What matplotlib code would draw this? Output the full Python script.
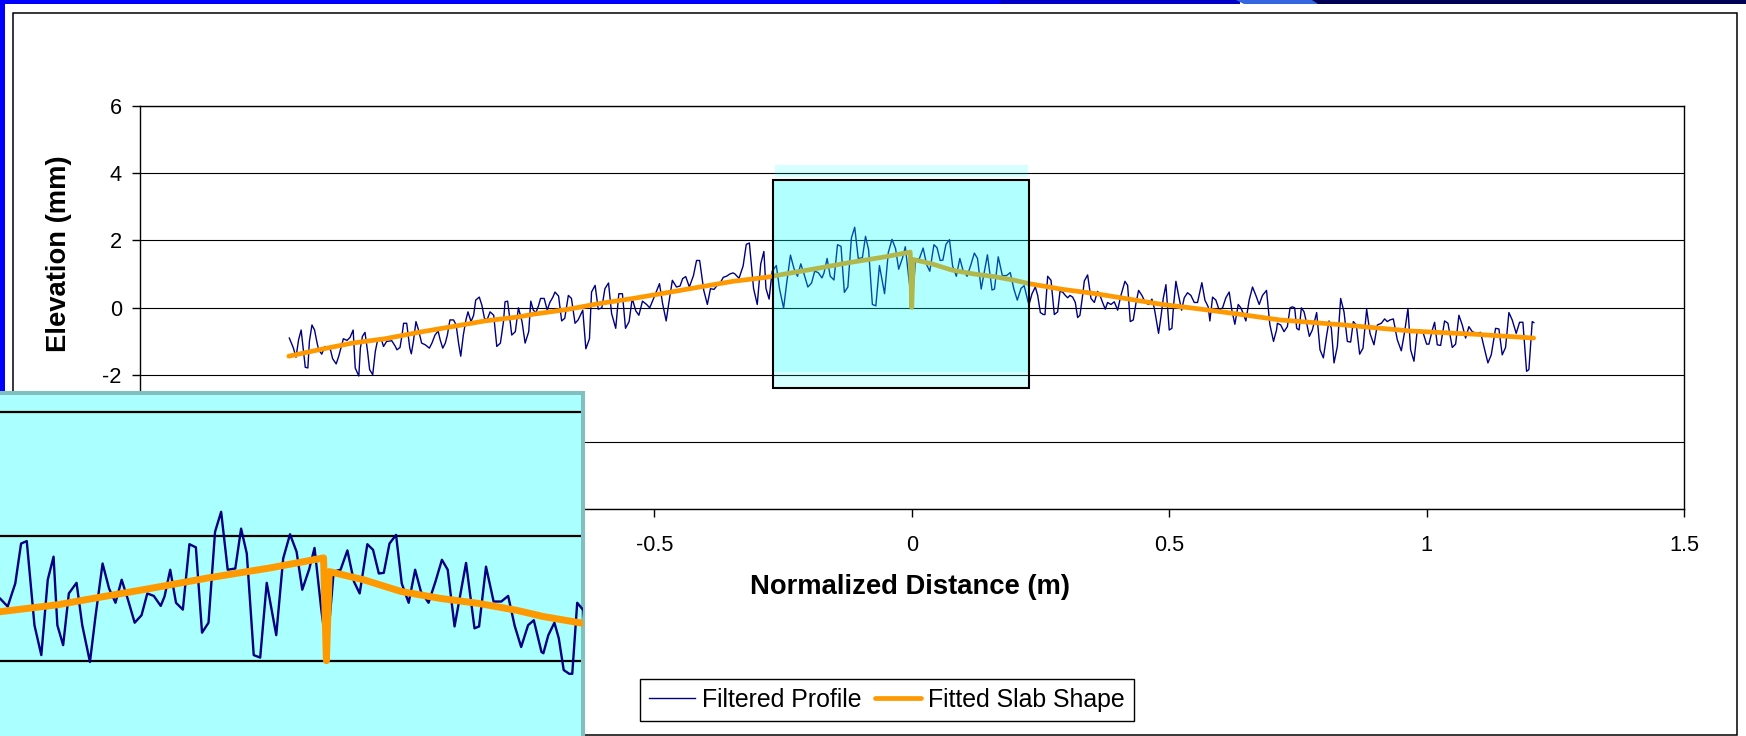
"""Slab profile slide: filtered elevation profile + fitted slab shape,
with the joint region highlighted and a zoomed inset in the lower left corner."""

import matplotlib
matplotlib.use('Agg')
import matplotlib.pyplot as plt
from matplotlib.patches import Rectangle, Polygon
from matplotlib.ticker import FuncFormatter

plt.rcParams['font.family'] = ['Liberation Sans', 'DejaVu Sans']
plt.rcParams['axes.unicode_minus'] = False

W, H = 1746, 736  # output size in px (dpi 100)

# ---- Axis setup ----
X_TICKS = [-1.5, -1.0, -0.5, 0.0, 0.5, 1.0, 1.5]
Y_TICKS = [-6, -4, -2, 0, 2, 4, 6]
INSET_GRID = [0, 2, 4]

# ---- Filtered profile (distance m, elevation mm) ----
profile_west = [
    (-1.209, -0.91), (-1.201, -1.21), (-1.196, -1.48), (-1.191, -0.96), (-1.186, -0.67),
    (-1.181, -1.36), (-1.178, -1.78), (-1.173, -1.80), (-1.170, -1.01), (-1.165, -0.52),
    (-1.160, -0.67), (-1.155, -1.06), (-1.152, -1.26), (-1.146, -1.39), (-1.140, -1.16),
    (-1.136, -1.21), (-1.129, -1.26), (-1.125, -1.52), (-1.118, -1.68), (-1.113, -1.45),
    (-1.108, -1.16), (-1.104, -0.93), (-1.097, -0.98), (-1.091, -0.89), (-1.085, -0.67),
    (-1.081, -1.80), (-1.074, -2.04), (-1.071, -1.21), (-1.067, -0.86), (-1.062, -0.74),
    (-1.057, -1.31), (-1.053, -1.85), (-1.047, -2.00), (-1.042, -1.31), (-1.037, -0.93),
    (-1.031, -0.91), (-1.026, -1.16), (-1.020, -1.01), (-1.010, -0.99), (-1.003, -1.16),
    (-1.000, -1.26), (-0.994, -1.19), (-0.990, -0.82), (-0.987, -0.47), (-0.981, -0.47),
    (-0.975, -1.21), (-0.972, -1.38), (-0.968, -1.01), (-0.963, -0.42), (-0.958, -0.67),
    (-0.952, -1.06), (-0.945, -1.11), (-0.937, -1.21), (-0.932, -1.06), (-0.926, -0.82),
    (-0.920, -0.70), (-0.916, -0.96), (-0.911, -1.21), (-0.906, -1.06), (-0.902, -0.82),
    (-0.897, -0.37), (-0.890, -0.37), (-0.885, -0.52), (-0.880, -1.09), (-0.876, -1.45),
    (-0.871, -0.82), (-0.866, -0.37), (-0.862, -0.13), (-0.856, -0.42), (-0.851, -0.23),
    (-0.847, 0.22), (-0.840, 0.31), (-0.835, 0.07), (-0.830, -0.32), (-0.825, -0.37),
    (-0.819, -0.13), (-0.812, -0.23), (-0.806, -1.16), (-0.799, -1.06), (-0.793, -0.42),
    (-0.790, 0.17), (-0.785, 0.19), (-0.780, -0.42), (-0.777, -0.82), (-0.770, -0.72),
    (-0.764, -0.01), (-0.757, -0.42), (-0.751, -1.06), (-0.744, -0.72), (-0.740, 0.19),
]
profile_mid_west = [
    (-0.735, -0.08), (-0.730, -0.15), (-0.725, 0.05), (-0.721, 0.27), (-0.714, 0.27),
    (-0.708, -0.08), (-0.703, 0.15), (-0.697, 0.31), (-0.693, 0.46), (-0.686, 0.34),
    (-0.680, -0.40), (-0.674, -0.32), (-0.667, 0.36), (-0.661, 0.27), (-0.654, -0.47),
    (-0.648, -0.37), (-0.639, -0.08), (-0.633, -1.23), (-0.626, -0.93), (-0.622, 0.46),
    (-0.615, 0.66), (-0.609, -0.05), (-0.602, -0.01), (-0.596, 0.56), (-0.589, 0.73),
    (-0.583, -0.18), (-0.575, -0.62), (-0.569, 0.41), (-0.562, 0.41), (-0.556, -0.62),
    (-0.549, -0.42), (-0.543, 0.27), (-0.536, -0.10), (-0.530, -0.23), (-0.523, 0.19),
    (-0.515, 0.09), (-0.509, -0.01), (-0.499, 0.36), (-0.490, 0.71), (-0.484, 0.12),
    (-0.477, -0.40), (-0.472, 0.12), (-0.465, 0.81), (-0.457, 0.61), (-0.450, 0.64),
    (-0.445, 0.86), (-0.439, 0.92), (-0.432, 0.61), (-0.424, 0.95), (-0.418, 1.40),
    (-0.412, 1.40), (-0.404, 0.51), (-0.397, 0.09), (-0.391, 0.56), (-0.384, 0.54),
    (-0.378, 0.66), (-0.371, 0.76), (-0.366, 0.90), (-0.360, 0.93), (-0.353, 1.00),
    (-0.347, 1.03),
]
profile_joint = [
    (-0.3436, 1.00), (-0.3355, 0.87), (-0.3275, 1.24), (-0.3214, 1.88), (-0.3154, 1.92),
    (-0.3073, 0.57), (-0.3001, 0.09), (-0.2933, 1.30), (-0.2872, 1.67), (-0.2832, 0.57),
    (-0.2771, 0.25), (-0.2711, 1.08), (-0.2630, 1.25), (-0.2570, 0.57), (-0.2489, -0.02),
    (-0.2429, 0.73), (-0.2356, 1.56), (-0.2288, 1.16), (-0.2220, 0.93), (-0.2155, 1.30),
    (-0.2087, 0.97), (-0.2018, 0.61), (-0.1946, 0.73), (-0.1885, 1.08), (-0.1817, 1.04),
    (-0.1744, 0.88), (-0.1704, 1.03), (-0.1644, 1.46), (-0.1583, 0.93), (-0.1511, 0.82),
    (-0.1442, 1.87), (-0.1374, 1.82), (-0.1309, 0.45), (-0.1241, 0.61), (-0.1172, 2.07),
    (-0.1108, 2.39), (-0.1039, 1.46), (-0.0959, 1.48), (-0.0898, 2.12), (-0.0838, 1.72),
    (-0.0765, 0.09), (-0.0697, 0.05), (-0.0628, 1.25), (-0.0528, 0.41), (-0.0455, 1.64),
    (-0.0383, 2.03), (-0.0314, 1.75), (-0.0254, 1.14), (-0.0181, 1.47), (-0.0125, 1.81),
    (-0.0053, 0.81), (0.0005, 0.15), (0.0077, 1.43), (0.0149, 1.46), (0.0221, 1.77),
    (0.0290, 1.27), (0.0350, 1.08), (0.0431, 1.87), (0.0491, 1.78), (0.0552, 1.40),
    (0.0604, 1.41), (0.0664, 1.88), (0.0733, 2.02), (0.0793, 1.24), (0.0866, 0.93),
    (0.0934, 1.46), (0.0995, 1.11), (0.1075, 0.93), (0.1148, 1.27), (0.1216, 1.62),
    (0.1277, 1.46), (0.1349, 0.55), (0.1470, 1.57), (0.1559, 0.52), (0.1607, 0.55),
    (0.1680, 1.51), (0.1760, 0.95), (0.1841, 0.95), (0.1913, 1.04), (0.1982, 0.56),
    (0.2050, 0.22), (0.2123, 0.57), (0.2183, 0.65), (0.2264, 0.14),
]
profile_mid_east = [
    (0.2284, 0.12), (0.2336, 0.41), (0.2400, 0.61), (0.2446, 0.36), (0.2498, -0.15),
    (0.2556, -0.21), (0.2588, -0.21), (0.2640, 0.93), (0.2705, 0.81), (0.2769, -0.21),
    (0.2834, -0.13), (0.2879, 0.48), (0.2931, 0.46), (0.2983, 0.36), (0.3028, 0.29),
    (0.3073, 0.36), (0.3125, 0.31), (0.3177, 0.15), (0.3222, -0.30), (0.3267, -0.23),
    (0.3319, 0.36), (0.3352, 0.79), (0.3416, 0.97), (0.3481, 0.27), (0.3546, 0.15),
    (0.3610, 0.48), (0.3656, 0.36), (0.3707, 0.15), (0.3759, -0.05), (0.3804, 0.15),
    (0.3869, 0.09), (0.3934, 0.17), (0.3999, -0.08), (0.4063, 0.36), (0.4141, 0.78),
    (0.4193, 0.66), (0.4244, -0.42), (0.4303, -0.37), (0.4354, 0.12), (0.4406, 0.51),
    (0.4471, 0.36), (0.4536, 0.15), (0.4600, 0.09), (0.4665, 0.25), (0.4710, -0.01),
    (0.4756, -0.42), (0.4794, -0.77), (0.4840, -0.28), (0.4885, 0.27), (0.4937, 0.68),
    (0.5001, -0.67), (0.5053, -0.62), (0.5086, 0.07), (0.5131, 0.78), (0.5183, 0.36),
    (0.5241, -0.08), (0.5293, 0.29), (0.5357, 0.44), (0.5422, 0.36), (0.5487, 0.15),
    (0.5551, 0.15), (0.5635, 0.74), (0.5694, 0.22), (0.5758, 0.02), (0.5791, -0.40),
    (0.5843, 0.31), (0.5907, 0.22), (0.5972, -0.08), (0.6037, -0.01), (0.6101, 0.29),
    (0.6166, 0.46), (0.6218, -0.08), (0.6276, -0.50), (0.6341, 0.09), (0.6393, -0.01),
    (0.6438, -0.18), (0.6490, -0.40), (0.6554, 0.22), (0.6619, 0.61), (0.6684, 0.36),
    (0.6748, 0.09), (0.6813, 0.36), (0.6891, 0.51), (0.6955, -0.50), (0.7027, -1.01),
    (0.7085, -0.67),
]
profile_east = [
    (0.7102, -0.47), (0.7167, -0.52), (0.7231, -0.72), (0.7296, -0.57), (0.7348, -0.01),
    (0.7393, 0.02), (0.7438, -0.01), (0.7477, -0.62), (0.7523, -0.67), (0.7568, -0.01),
    (0.7620, -0.13), (0.7671, -0.47), (0.7723, -0.86), (0.7781, -0.67), (0.7865, -0.15),
    (0.7930, -1.26), (0.7995, -1.50), (0.8060, -0.82), (0.8105, -0.40), (0.8150, -0.62),
    (0.8202, -1.65), (0.8267, -1.16), (0.8331, 0.27), (0.8396, -0.13), (0.8461, -1.01),
    (0.8525, -1.03), (0.8577, -0.42), (0.8635, -0.52), (0.8700, -1.39), (0.8765, -1.21),
    (0.8836, -0.05), (0.8901, -0.77), (0.8978, -1.11), (0.9043, -0.52), (0.9121, -0.47),
    (0.9185, -0.34), (0.9237, -0.42), (0.9289, -0.37), (0.9354, -0.34), (0.9431, -0.96),
    (0.9509, -1.29), (0.9574, -0.72), (0.9638, -0.03), (0.9690, -1.26), (0.9755, -1.60),
    (0.9819, -0.67), (0.9871, -0.67), (0.9936, -0.77), (1.0001, -1.09), (1.0046, -1.09),
    (1.0111, -0.67), (1.0156, -0.44), (1.0208, -1.11), (1.0272, -1.13), (1.0350, -0.40),
    (1.0415, -0.47), (1.0499, -1.19), (1.0564, -1.09), (1.0628, -0.23), (1.0693, -0.52),
    (1.0758, -0.91), (1.0822, -0.57), (1.0887, -0.72), (1.0971, -0.77), (1.1049, -0.74),
    (1.1113, -1.16), (1.1191, -1.65), (1.1256, -1.41), (1.1340, -0.62), (1.1405, -0.64),
    (1.1469, -1.41), (1.1534, -1.19), (1.1599, -0.15), (1.1663, -0.37), (1.1741, -0.77),
    (1.1806, -0.44), (1.1871, -0.44), (1.1942, -1.90), (1.1987, -1.85), (1.2052, -0.42),
    (1.2084, -0.45),
]

# ---- Fitted slab shape (drops to 0 right at the joint) ----
fit_shape = [
    (-1.210, -1.45), (-1.152, -1.26), (-1.087, -1.06), (-1.023, -0.93), (-0.958, -0.74),
    (-0.893, -0.57), (-0.829, -0.40), (-0.764, -0.28), (-0.735, -0.20), (-0.670, -0.06),
    (-0.606, 0.12), (-0.541, 0.27), (-0.476, 0.44), (-0.412, 0.61), (-0.347, 0.78),
    (-0.282, 0.90), (-0.253, 0.98), (-0.189, 1.15), (-0.124, 1.33), (-0.059, 1.49),
    (-0.003, 1.65), (0.000, 0.00), (0.003, 1.43), (0.039, 1.30), (0.079, 1.11),
    (0.120, 1.00), (0.160, 0.92), (0.200, 0.81), (0.228, 0.71), (0.293, 0.54),
    (0.358, 0.41), (0.422, 0.25), (0.487, 0.09), (0.552, -0.03), (0.617, -0.16),
    (0.715, -0.37), (0.840, -0.52), (0.969, -0.70), (1.098, -0.80), (1.208, -0.91),
]

# joint region highlighted on the main chart (x0, x1, y0, y1)
JOINT_BOX = (-0.270, 0.228, -2.39, 3.79)
JOINT_FILL_BOTTOM = -1.92
JOINT_TOP_BAND = (-0.266, 0.226, 3.90, 4.25)

BLUE = '#000080'
ORANGE = '#FF9900'
CYAN = '#00FFFF'


def fig_rect(left_px, top_px, right_px, bottom_px):
    """Pixel box (from the top-left corner) -> figure fraction [l, b, w, h]."""
    return [left_px / W, 1 - bottom_px / H,
            (right_px - left_px) / W, (bottom_px - top_px) / H]


def split(points):
    xs = [p[0] for p in points]
    ys = [p[1] for p in points]
    return xs, ys


def main():
    profile = profile_west + profile_mid_west + profile_joint + profile_mid_east + profile_east
    prof_x, prof_y = split(profile)
    fit_x, fit_y = split(fit_shape)

    fig = plt.figure(figsize=(W / 100, H / 100), dpi=100)

    # ---- Slide background: blue strips + chart frame ----
    bg = fig.add_axes([0, 0, 1, 1], zorder=0)
    bg.set_xlim(0, W)
    bg.set_ylim(H, 0)
    bg.axis('off')
    bg.add_patch(Rectangle((0, 0), 5, H, color='#0000FF', lw=0))
    bg.add_patch(Rectangle((0, 0), 1000, 4, color='#0000FF', lw=0))
    bg.add_patch(Rectangle((1000, 0), 240, 4, color='#0000C8', lw=0))
    bg.add_patch(Rectangle((1300, 0), W - 1300, 4, color='#000055', lw=0))
    bg.add_patch(Polygon([(1236, 0), (1312, 0), (1318, 4), (1244, 4)],
                         closed=True, color='#3366E0', lw=0))
    bg.add_patch(Rectangle((13, 12.5), 1724, 722.5, facecolor='white',
                           edgecolor='black', lw=1.1))

    # ---- Main chart ----
    ax = fig.add_axes(fig_rect(139.5, 106, 1684, 509), zorder=1)
    ax.set_xlim(X_TICKS[0], X_TICKS[-1])
    ax.set_ylim(Y_TICKS[0], Y_TICKS[-1])
    ax.set_xticks(X_TICKS)
    ax.set_yticks(Y_TICKS)
    fmt = FuncFormatter(lambda v, _: f"{v:g}")
    ax.xaxis.set_major_formatter(fmt)
    ax.yaxis.set_major_formatter(fmt)
    ax.grid(axis='y', color='black', linewidth=0.8)
    ax.set_axisbelow(True)
    for sp in ax.spines.values():
        sp.set_linewidth(1.0)
        sp.set_color('black')
    ax.tick_params(axis='both', direction='out', length=5.5, width=1.0,
                   labelsize=15.7, colors='black')
    ax.tick_params(axis='x', pad=13)
    ax.tick_params(axis='y', pad=7.2)

    ax.plot(prof_x, prof_y, color=BLUE, linewidth=1.0, zorder=3, label='Filtered Profile')
    ax.plot(fit_x, fit_y, color=ORANGE, linewidth=3.4, zorder=3,
            solid_joinstyle='round', solid_capstyle='round', label='Fitted Slab Shape')

    # highlighted joint region (translucent cyan over the traces)
    x0, x1, y0, y1 = JOINT_BOX
    ax.add_patch(Rectangle((x0, JOINT_FILL_BOTTOM), x1 - x0, y1 - JOINT_FILL_BOTTOM,
                           facecolor=CYAN, alpha=0.3, lw=0, zorder=4))
    ax.add_patch(Rectangle((x0, y0), x1 - x0, JOINT_FILL_BOTTOM - y0,
                           facecolor=CYAN, alpha=0.16, lw=0, zorder=4))
    bx0, bx1, by0, by1 = JOINT_TOP_BAND
    ax.add_patch(Rectangle((bx0, by0), bx1 - bx0, by1 - by0,
                           facecolor=CYAN, alpha=0.16, lw=0, zorder=4))
    ax.add_patch(Rectangle((x0, y0), x1 - x0, y1 - y0, fill=False,
                           edgecolor='black', linewidth=1.5, zorder=5))

    fig.text(59 / W, 1 - 254 / H, 'Elevation (mm)', rotation=90, ha='center',
             va='center', fontsize=19.7, fontweight='bold')
    fig.text(910 / W, 1 - 587 / H, 'Normalized Distance (m)', ha='center',
             va='center', fontsize=19.7, fontweight='bold')

    leg = fig.legend(loc='center', bbox_to_anchor=(886.8 / W, 1 - 700 / H), ncol=2,
                     frameon=True, fancybox=False, edgecolor='black', framealpha=1,
                     fontsize=17.9, handlelength=1.85, handletextpad=0.31,
                     columnspacing=0.52, borderpad=0.35, borderaxespad=0)
    leg.get_frame().set_linewidth(1.0)

    # ---- Zoomed inset of the joint (lower left, runs off the slide) ----
    ins = fig.add_axes(fig_rect(-10, 393, 583, 746), zorder=6, facecolor='#AAFFFF')
    ins.set_xlim(-0.3541, 0.2701)
    ins.set_ylim(-1.369, 4.297)
    ins.set_xticks([])
    ins.set_yticks(INSET_GRID)
    ins.tick_params(length=0, labelleft=False)
    ins.grid(axis='y', color='black', linewidth=1.6)
    ins.set_axisbelow(True)
    for side in ('left', 'bottom'):
        ins.spines[side].set_visible(False)
    for side in ('top', 'right'):
        ins.spines[side].set_color('#80C0C0')
        ins.spines[side].set_linewidth(2.9)
    ins.plot(prof_x, prof_y, color=BLUE, linewidth=1.7, zorder=3)
    ins.plot(fit_x, fit_y, color=ORANGE, linewidth=5, zorder=3,
             solid_joinstyle='round', solid_capstyle='round')

    fig.savefig('out.png', dpi=100)
    plt.close(fig)


if __name__ == "__main__":
    main()
